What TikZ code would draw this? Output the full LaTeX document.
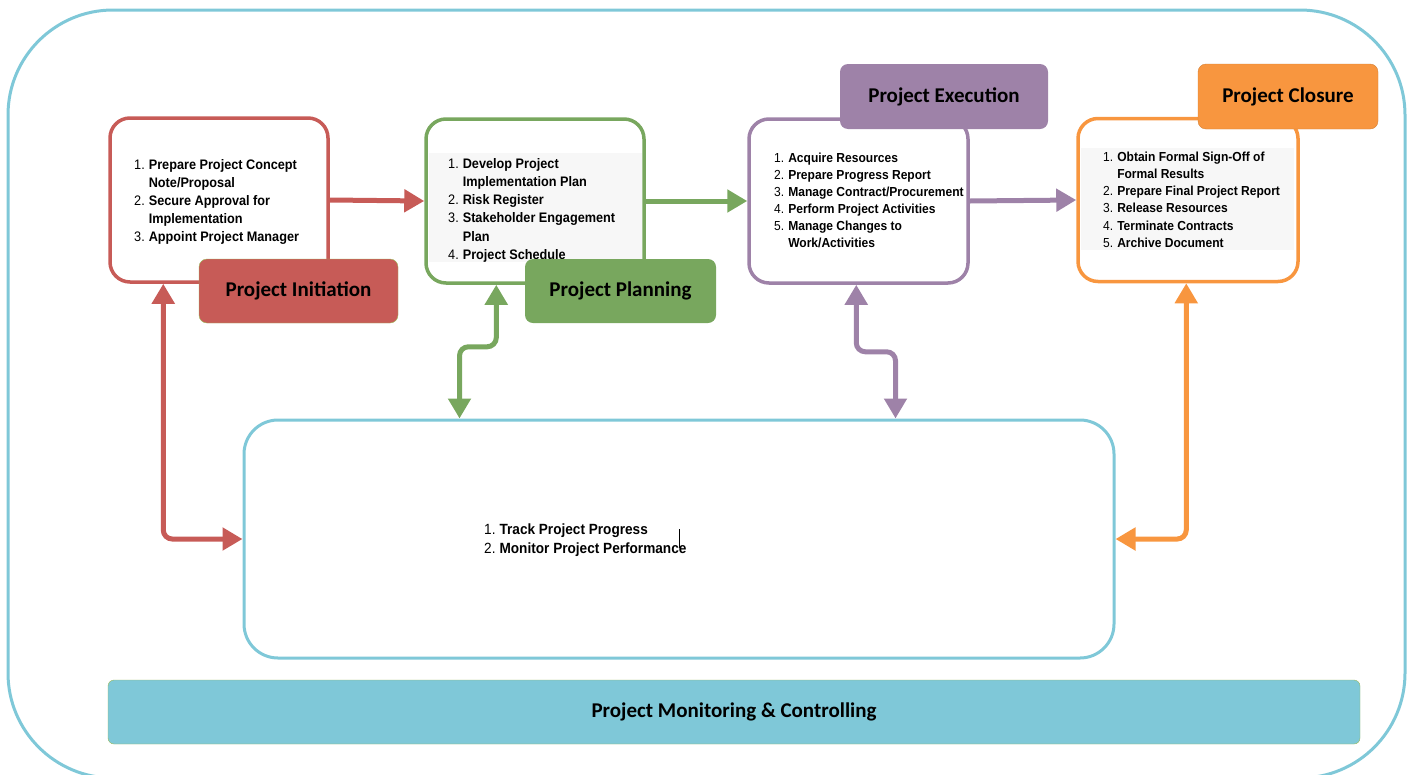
\documentclass[tikz,border=0pt]{standalone}
\usepackage{fontspec}
\setmainfont{Liberation Sans}
\newfontfamily\listfont{Liberation Sans}[FakeStretch=0.92]
\newfontfamily\tagfont{Carlito}
\usetikzlibrary{arrows.meta}

\definecolor{initred}{HTML}{C75B57}
\definecolor{plangreen}{HTML}{78A75E}
\definecolor{execpurple}{HTML}{9E82A8}
\definecolor{closeorange}{HTML}{F8963F}
\definecolor{monblue}{HTML}{7FC8D8}
\definecolor{tagedge}{HTML}{9BBB59}

\newcommand\pitem[2]{#1.&\textbf{#2}\\}
\newcommand\pcont[1]{&\textbf{#1}\\}

\tikzset{
  phase/.style={draw=#1, line width=3.5pt, rounded corners=20pt, fill=white},
  tag/.style={fill=#1, rounded corners=8pt, inner sep=0pt,
    font=\tagfont\bfseries\fontsize{21}{24}\selectfont},
  link/.style={draw=#1, line width=5pt, rounded corners=9pt,
    -{Triangle[length=20pt,width=22pt]}},
  dlink/.style={link=#1, {Triangle[length=20pt,width=22pt]}-{Triangle[length=20pt,width=22pt]}},
  items/.style={anchor=north west, inner sep=0pt, align=left,
    font=\listfont\fontsize{13.8}{#1}\selectfont},
  items/.default=18
}

\begin{document}
\begin{tikzpicture}[x=1pt, y=-1pt]
  \useasboundingbox (0,0) rectangle (1412,774);

  % outer frame
  \draw [monblue, line width=3pt, rounded corners=105pt] (8,10) rectangle (1405,778);

  % phase boxes
  \node [phase=initred, minimum width=218pt, minimum height=164pt] (init) at (219,200) {};
  \node [phase=plangreen, minimum width=218pt, minimum height=164pt] (plan) at (535,201) {};
  \node [phase=execpurple, minimum width=219pt, minimum height=164pt] (exec) at (858.5,201) {};
  \node [phase=closeorange, minimum width=220pt, minimum height=163pt] (close) at (1188,200) {};
  \node [phase=monblue, line width=3pt, rounded corners=34pt, minimum width=870pt, minimum height=238pt] (mon) at (679,539) {};

  % faint backing behind two of the lists
  \fill [black!3] (429,153) rectangle (642,262);
  \fill [black!3] (1081,148) rectangle (1294,250);

  \node [items] (initlist) at (134,157) {\begin{tabular}{@{}r@{\hspace{4pt}}l@{}}
    \pitem{1}{Prepare Project Concept}
    \pcont{Note/Proposal}
    \pitem{2}{Secure Approval for}
    \pcont{Implementation}
    \pitem{3}{Appoint Project Manager}
  \end{tabular}};
  \node [items=18.3] (planlist) at (448,155) {\begin{tabular}{@{}r@{\hspace{4pt}}l@{}}
    \pitem{1}{Develop Project}
    \pcont{Implementation Plan}
    \pitem{2}{Risk Register}
    \pitem{3}{Stakeholder Engagement}
    \pcont{Plan}
    \pitem{4}{Project Schedule}
  \end{tabular}};
  \node [items, font=\listfont\fontsize{13.1}{17}\selectfont] (execlist) at (774,150) {\begin{tabular}{@{}r@{\hspace{4pt}}l@{}}
    \pitem{1}{Acquire Resources}
    \pitem{2}{Prepare Progress Report}
    \pitem{3}{Manage Contract/Procurement}
    \pitem{4}{Perform Project Activities}
    \pitem{5}{Manage Changes to}
    \pcont{Work/Activities}
  \end{tabular}};
  \node [items, font=\listfont\fontsize{13.1}{17.2}\selectfont] (closelist) at (1103,149) {\begin{tabular}{@{}r@{\hspace{4pt}}l@{}}
    \pitem{1}{Obtain Formal Sign-Off of}
    \pcont{Formal Results}
    \pitem{2}{Prepare Final Project Report}
    \pitem{3}{Release Resources}
    \pitem{4}{Terminate Contracts}
    \pitem{5}{Archive Document}
  \end{tabular}};
  \node [items, font=\listfont\fontsize{14.8}{19}\selectfont] (monlist) at (484,521) {\begin{tabular}{@{}r@{\hspace{4pt}}l@{}}
    \pitem{1}{Track Project Progress}
    \pitem{2}{Monitor Project Performance}
  \end{tabular}};
  \draw [line width=0.8pt] (679,529) -- (679,548);

  % phase tags
  \node [tag=initred, draw=tagedge, thin, minimum width=199pt, minimum height=64pt] (inittag) at (298.5,291) {Project Initiation};
  \node [tag=plangreen, minimum width=191pt, minimum height=64pt] (plantag) at (620.5,291) {Project Planning};
  \node [tag=execpurple, minimum width=208pt, minimum height=65pt] (exectag) at (944,96.5) {Project Execution};
  \node [tag=closeorange, draw=closeorange!85!black, thin, minimum width=180pt, minimum height=65pt] (closetag) at (1288,96.5) {Project Closure};
  \node [tag=monblue, draw=tagedge, thin, rounded corners=6pt, minimum width=1252pt, minimum height=64pt] (montag) at (734,712) {Project Monitoring \& Controlling};

  % flow between phases
  \draw [link=initred] (init.east) -- (plan.west);
  \draw [link=plangreen] (plan.east) -- (exec.west);
  \draw [link=execpurple] (exec.east) -- (close.west);

  % links to monitoring
  \draw [dlink=initred] ([xshift=55pt]init.south west) |- (mon.west);
  \draw [dlink=plangreen] ([xshift=72pt]plan.south west) -- ++(0,62) -| ([xshift=217pt]mon.north west);
  \draw [dlink=execpurple] ([xshift=109pt]exec.south west) -- ++(0,67) -| ([xshift=653pt]mon.north west);
  \draw [dlink=closeorange] ([xshift=110pt]close.south west) |- (mon.east);
\end{tikzpicture}
\end{document}
